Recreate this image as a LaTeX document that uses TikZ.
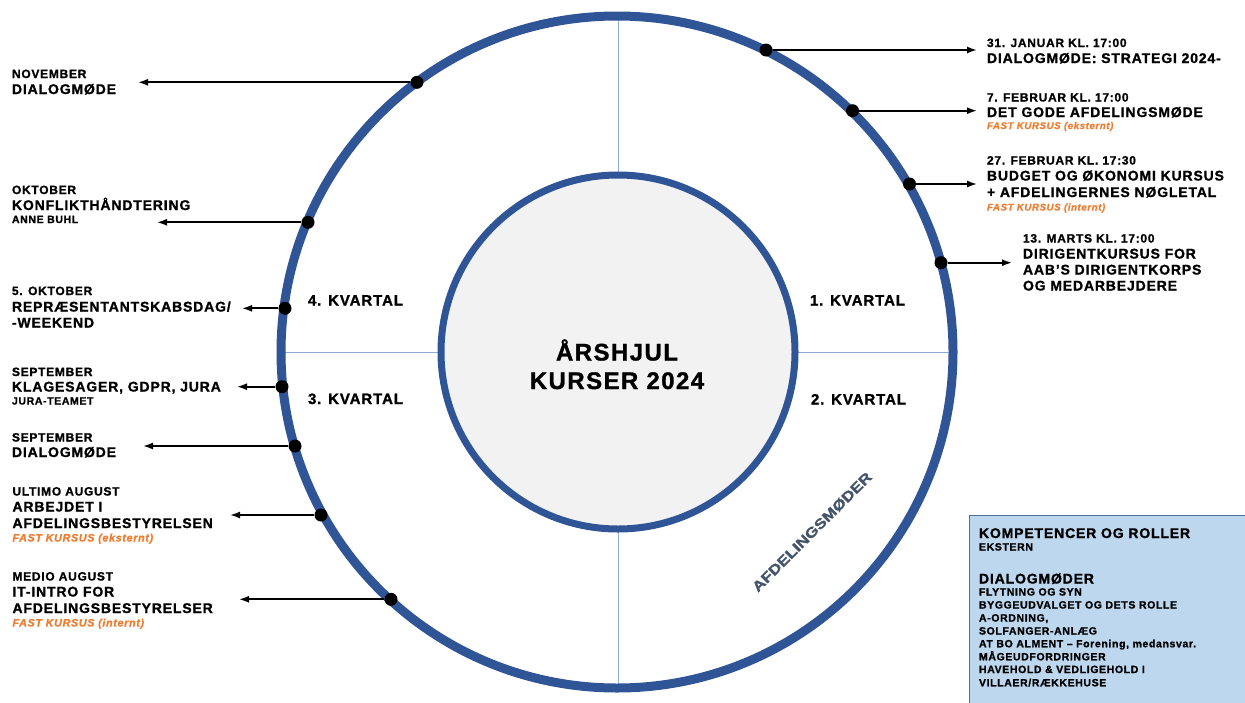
\documentclass[tikz,border=0pt]{standalone}
\usepackage{fontspec}
\setmainfont{Liberation Sans}[LetterSpace=6, BoldFeatures={FakeBold=1.2}, BoldItalicFeatures={FakeBold=1}]
\usetikzlibrary{arrows.meta}
\definecolor{ringblue}{RGB}{47,85,151}
\definecolor{crossblue}{RGB}{143,170,220}
\definecolor{kurs}{RGB}{237,125,49}
\definecolor{slate}{RGB}{68,84,106}
\definecolor{boxfill}{RGB}{189,215,238}
\definecolor{boxedge}{RGB}{80,110,150}
\definecolor{innerfill}{RGB}{242,242,242}
\tikzset{
  txt/.style={anchor=base west, inner sep=0pt, outer sep=0pt},
  lhead/.style={txt, font=\bfseries\fontsize{12}{14}\selectfont},
  lbig/.style={txt, font=\bfseries\fontsize{14}{16}\selectfont},
  lsmall/.style={txt, font=\bfseries\fontsize{10.5}{12}\selectfont},
  lkurs/.style={txt, text=kurs, font=\bfseries\itshape\fontsize{10.8}{12}\selectfont},
  rkurs/.style={txt, text=kurs, font=\bfseries\itshape\fontsize{9.7}{11}\selectfont},
  kvartal/.style={txt, font=\bfseries\fontsize{15}{17}\selectfont},
  evdot/.style={circle, fill=black, minimum size=13pt, inner sep=0pt},
  evarrow/.style={-{Latex[length=10pt,width=7pt]}, line width=1.7pt},
  crossline/.style={crossblue, line width=1pt},
}
\begin{document}
\begin{tikzpicture}[x=1pt,y=-1pt]
\path[use as bounding box] (0,0) rectangle (1245,702);
\clip (0,0) rectangle (1245,702);

% cross lines and rings
\draw[crossline] (618,16) -- (618,688);
\draw[crossline] (281,352.5) -- (953,352.5);
\draw[ringblue, line width=9pt] (617,352) circle[radius=336pt];
\draw[ringblue, line width=7pt, fill=innerfill] (618,352) circle[radius=177pt];

% center title
\node[anchor=base, inner sep=0pt, font=\bfseries\fontsize{24}{28}\selectfont] (title1) at (617,360.5) {ÅRSHJUL};
\node[anchor=base, inner sep=0pt, font=\bfseries\fontsize{24}{28}\selectfont] (title2) at (617,389) {KURSER 2024};

% quarters
\node[kvartal] (q4) at (308,305.5) {4. KVARTAL};
\node[kvartal] (q1) at (810,305.5) {1. KVARTAL};
\node[kvartal] (q3) at (308,404) {3. KVARTAL};
\node[kvartal] (q2) at (811,404.5) {2. KVARTAL};

\node[rotate=45, text=slate, inner sep=0pt, font=\bfseries\fontsize{14}{16}\selectfont\addfontfeatures{LetterSpace=0}] (afd) at (812,532) {\scalebox{1.22}[1]{AFDELINGSMØDER}};

% ---------- left side ----------
\node[lhead] (nov1) at (12,78) {NOVEMBER};
\node[lbig] (nov2) at (12,94) {DIALOGMØDE};
\node[evdot] (dnov) at (417,82.3) {};
\coordinate (enov) at (138,82.3);
\draw[evarrow] (dnov) -- (enov);

\node[lhead] (okt1) at (12,194) {OKTOBER};
\node[lbig] (okt2) at (12,210) {KONFLIKTHÅNDTERING};
\node[lsmall] (okt3) at (12,223) {ANNE BUHL};
\node[evdot] (dokt) at (308,222.3) {};
\coordinate (eokt) at (157,222.3);
\draw[evarrow] (dokt) -- (eokt);

\node[lhead] (rep1) at (12,295) {5. OKTOBER};
\node[lbig] (rep2) at (12,311.5) {REPRÆSENTANTSKABSDAG/};
\node[lbig] (rep3) at (12,327.5) {-WEEKEND};
\node[evdot] (drep) at (285,308.3) {};
\coordinate (erep) at (242,308.3);
\draw[evarrow] (drep) -- (erep);

\node[lhead] (kla1) at (12,376) {SEPTEMBER};
\node[lbig] (kla2) at (12,391.5) {KLAGESAGER, GDPR, JURA};
\node[lsmall] (kla3) at (12,404.5) {JURA-TEAMET};
\node[evdot] (dkla) at (282,386.7) {};
\coordinate (ekla) at (237,386.7);
\draw[evarrow] (dkla) -- (ekla);

\node[lhead] (sep1) at (12,441.5) {SEPTEMBER};
\node[lbig] (sep2) at (12,457) {DIALOGMØDE};
\node[evdot] (dsep) at (295,446) {};
\coordinate (esep) at (143,446);
\draw[evarrow] (dsep) -- (esep);

\node[lhead] (ult1) at (12.5,495.5) {ULTIMO AUGUST};
\node[lbig] (ult2) at (12.5,511.5) {ARBEJDET I};
\node[lbig] (ult3) at (12.5,528) {AFDELINGSBESTYRELSEN};
\node[lkurs] (ult4) at (12.5,541.5) {FAST KURSUS (eksternt)};
\node[evdot] (dult) at (321,515) {};
\coordinate (eult) at (230,515);
\draw[evarrow] (dult) -- (eult);

\node[lhead] (med1) at (12.5,580.5) {MEDIO AUGUST};
\node[lbig] (med2) at (12.5,596.5) {IT-INTRO FOR};
\node[lbig] (med3) at (12.5,613) {AFDELINGSBESTYRELSER};
\node[lkurs] (med4) at (12.5,626.5) {FAST KURSUS (internt)};
\node[evdot] (dmed) at (391,599.3) {};
\coordinate (emed) at (239,599.3);
\draw[evarrow] (dmed) -- (emed);

% ---------- right side ----------
\node[lhead] (jan1) at (987,47) {31. JANUAR KL. 17:00};
\node[lbig] (jan2) at (987,63) {DIALOGMØDE: STRATEGI 2024-};
\node[evdot] (djan) at (766,50) {};
\coordinate (ejan) at (977,50);
\draw[evarrow] (djan) -- (ejan);

\node[lhead] (feb1) at (987,101.5) {7. FEBRUAR KL. 17:00};
\node[lbig] (feb2) at (987,117) {DET GODE AFDELINGSMØDE};
\node[rkurs] (feb3) at (987,129) {FAST KURSUS (eksternt)};
\node[evdot] (dfeb) at (852.5,110.7) {};
\coordinate (efeb) at (977,110.7);
\draw[evarrow] (dfeb) -- (efeb);

\node[lhead] (bud1) at (987,164.5) {27. FEBRUAR KL. 17:30};
\node[lbig] (bud2) at (987,180.5) {BUDGET OG ØKONOMI KURSUS};
\node[lbig] (bud3) at (987,197) {+ AFDELINGERNES NØGLETAL};
\node[rkurs] (bud4) at (987,210.5) {FAST KURSUS (internt)};
\node[evdot] (dbud) at (909.5,184) {};
\coordinate (ebud) at (977,184);
\draw[evarrow] (dbud) -- (ebud);

\node[lhead] (dir1) at (1023,242.5) {13. MARTS KL. 17:00};
\node[lbig] (dir2) at (1023,258.5) {DIRIGENTKURSUS FOR};
\node[lbig] (dir3) at (1023,274.5) {AAB’S DIRIGENTKORPS};
\node[lbig] (dir4) at (1023,290.5) {OG MEDARBEJDERE};
\node[evdot] (ddir) at (941,262.7) {};
\coordinate (edir) at (1012,262.7);
\draw[evarrow] (ddir) -- (edir);

% ---------- info box ----------
\draw[draw=boxedge, line width=1.5pt, fill=boxfill] (969.5,515.5) rectangle (1260,720);
\node[lbig] (box1) at (979,538) {KOMPETENCER OG ROLLER};
\node[lsmall] (box2) at (979,550.5) {EKSTERN};
\node[lbig] (box3) at (979,583.5) {DIALOGMØDER};
\node[lsmall] (box4) at (979,595.5) {FLYTNING OG SYN};
\node[lsmall] (box5) at (979,608.5) {BYGGEUDVALGET OG DETS ROLLE};
\node[lsmall] (box6) at (979,621.5) {A-ORDNING,};
\node[lsmall] (box7) at (979,634.5) {SOLFANGER-ANLÆG};
\node[lsmall] (box8) at (979,647.3) {AT BO ALMENT – Forening, medansvar.};
\node[lsmall] (box9) at (979,660.3) {MÅGEUDFORDRINGER};
\node[lsmall] (box10) at (979,673) {HAVEHOLD \& VEDLIGEHOLD I};
\node[lsmall] (box11) at (979,686.3) {VILLAER/RÆKKEHUSE};
\end{tikzpicture}
\end{document}
